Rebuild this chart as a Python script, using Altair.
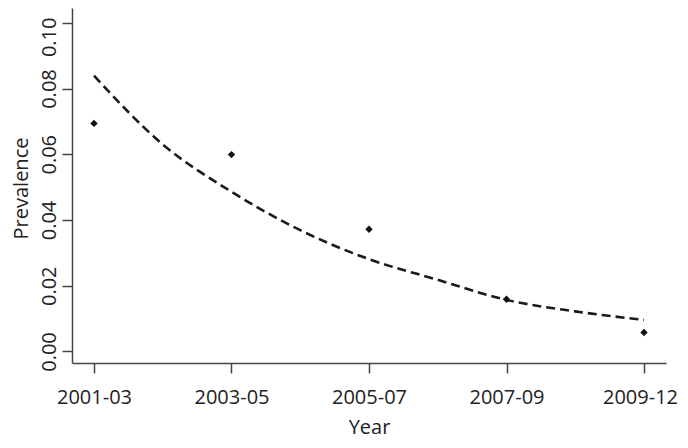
import altair as alt
import pandas as pd

# Categories (x) and observed prevalence values
periods = ["2001-03", "2003-05", "2005-07", "2007-09", "2009-12"]
observed = [0.0694, 0.0599, 0.0372, 0.0159, 0.0058]

# Fitted curve at half-step positions
curve_pos = [0, 0.5, 1, 1.5, 2, 2.5, 3, 3.5, 4]
curve_val = [0.0839, 0.0630, 0.0486, 0.0369, 0.0281, 0.0218, 0.0157, 0.0122, 0.0096]

y_ticks = [0.0, 0.02, 0.04, 0.06, 0.08, 0.10]

pts = pd.DataFrame({"idx": list(range(len(periods))), "period": periods, "prev": observed})
fit = pd.DataFrame({"idx": curve_pos, "prev": curve_val})

FONT = "Open Sans"
label_expr = "[" + ",".join("'%s'" % p for p in periods) + "][datum.value]"

x_scale = alt.Scale(domain=[-0.16, 4.16], nice=False, zero=False)
y_scale = alt.Scale(domain=[-0.0035, 0.1045], nice=False, zero=False)

x_axis = alt.Axis(
    values=list(range(len(periods))), labelExpr=label_expr, title="Year",
    grid=False, domainColor="#444444", domainWidth=1.5, tickColor="#444444",
    tickWidth=1.5, tickSize=10, labelFont=FONT, labelFontSize=20,
    labelColor="#222222", labelBaseline="alphabetic", labelPadding=30,
    labelOffset={"condition": {"test": "datum.value == 4", "value": -4}, "value": 0},
    labelFlush=False, labelOverlap=False,
    titleFont=FONT, titleFontSize=20, titleFontWeight="normal", titleColor="#222222",
    titleBaseline="alphabetic", titleY=70, titleX=297,
)
y_axis = alt.Axis(
    values=y_ticks, format=".2f", title="Prevalence",
    grid=False, domainColor="#444444", domainWidth=1.5, tickColor="#444444",
    tickWidth=1.5, tickSize=10, labelFont=FONT, labelFontSize=20,
    labelColor="#222222", labelAngle=270, labelAlign="center",
    labelBaseline="alphabetic", labelPadding=7, labelFlush=False, labelOverlap=False,
    labelOffset={"condition": {"test": "datum.value > 0.09", "value": 14}, "value": 0},
    titleFont=FONT, titleFontSize=20, titleFontWeight="normal", titleColor="#222222",
    titleAngle=270, titleAlign="center", titleBaseline="middle", titleX=-51, titleY=180,
)

line = alt.Chart(fit).mark_line(
    color="#1a1a1a", strokeWidth=2.6, strokeDash=[9, 5], interpolate="monotone"
).encode(
    x=alt.X("idx:Q", scale=x_scale, axis=x_axis),
    y=alt.Y("prev:Q", scale=y_scale, axis=y_axis),
)

points = alt.Chart(pts).mark_point(
    shape="diamond", filled=True, color="#111111", size=55, opacity=1
).encode(
    x=alt.X("idx:Q", scale=x_scale),
    y=alt.Y("prev:Q", scale=y_scale),
)

chart = (line + points).properties(
    width=594, height=355,
    autosize=alt.AutoSizeParams(type="none"),
    padding={"left": 64, "top": 0, "right": 14, "bottom": 77},
    background="white",
).configure_view(stroke=None)

chart.save("out.html", embed_options={"renderer": "svg", "actions": False})
